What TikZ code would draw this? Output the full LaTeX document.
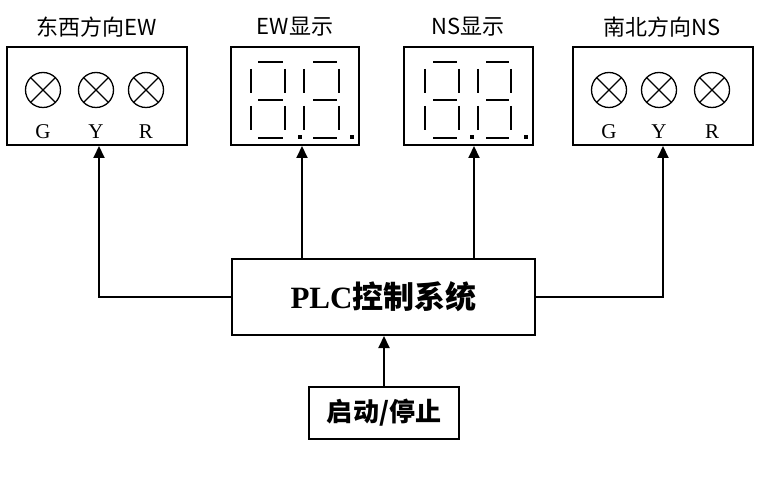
\documentclass[tikz,border=0pt]{standalone}
\usepackage{fontspec}
\setmainfont{Liberation Serif}
\newfontfamily\cjk{Noto Sans CJK SC}
\usetikzlibrary{arrows.meta}
\begin{document}
\begin{tikzpicture}[x=1pt,y=-1pt,
  box/.style={draw,line width=2pt,inner sep=0pt},
  arr/.style={line width=2pt,-{Triangle[length=12pt,width=11pt]}},
  seg/.style={line width=1.8pt},
  lamp/.style={line width=1.3pt},
  ttl/.style={font=\cjk\fontsize{22}{22}\selectfont},
  lbl/.style={font=\fontsize{21}{21}\selectfont},
]
\useasboundingbox (0,0) rectangle (760,494);
% boxes
\node[box,minimum width=180pt,minimum height=98pt] (ew) at (97,96) {};
\node[box,minimum width=128pt,minimum height=98pt] (ewd) at (295,96) {};
\node[box,minimum width=129pt,minimum height=98pt] (nsd) at (468.5,96) {};
\node[box,minimum width=180pt,minimum height=98pt] (ns) at (663,96) {};
\node[box,minimum width=303pt,minimum height=76pt,font=\fontsize{31}{31}\selectfont\bfseries] (plc) at (383.5,297) {PLC{\cjk 控制系统}};
\node[box,minimum width=150pt,minimum height=52pt,font=\cjk\fontsize{26}{26}\selectfont\bfseries] (start) at (384,413) {启动/停止};
% titles
\node[ttl] (t1) at (97,27) {东西方向EW};
\node[ttl] (t2) at (295,27) {EW显示};
\node[ttl] (t3) at (468,27) {NS显示};
\node[ttl] (t4) at (662,27) {南北方向NS};
% lamps
\foreach \n/\x in {g1/43,y1/96,r1/146,g2/609,y2/659,r2/712}{
  \draw[lamp] (\x,90) circle (17.5);
  \draw[lamp] (\x-12.4,77.6) -- (\x+12.4,102.4) (\x-12.4,102.4) -- (\x+12.4,77.6);
}
\foreach \n/\x/\t in {lg1/43/G,ly1/96/Y,lr1/146/R,lg2/609/G,ly2/659/Y,lr2/712/R}{
  \node[lbl] (\n) at (\x,132) {\t};
}
% seven segment digits
\foreach \a/\b/\hl/\hr in {251/285/258/283,304/339/313/337,425/459/433/457,478/511/486/509}{
  \draw[seg] (\hl,62) -- (\hr,62) (\hl,100) -- (\hr,100) (\hl,138) -- (\hr,138);
  \draw[seg] (\a,69) -- (\a,93) (\b,69) -- (\b,93) (\a,106) -- (\a,130) (\b,106) -- (\b,130);
}
\foreach \x in {300,352,472,526}{
  \fill (\x-2,135) rectangle (\x+2,139);
}
% connectors
\coordinate (c1) at (99,0);
\coordinate (c2) at (302,0);
\coordinate (c3) at (474,0);
\coordinate (c4) at (663,0);
\draw[arr] (plc.west) -| (ew.south -| c1);
\draw[arr] (plc.north -| c2) -- (ewd.south -| c2);
\draw[arr] (plc.north -| c3) -- (nsd.south -| c3);
\draw[arr] (plc.east) -| (ns.south -| c4);
\draw[arr] (start.north) -- (plc.south -| start.north);
\end{tikzpicture}
\end{document}
